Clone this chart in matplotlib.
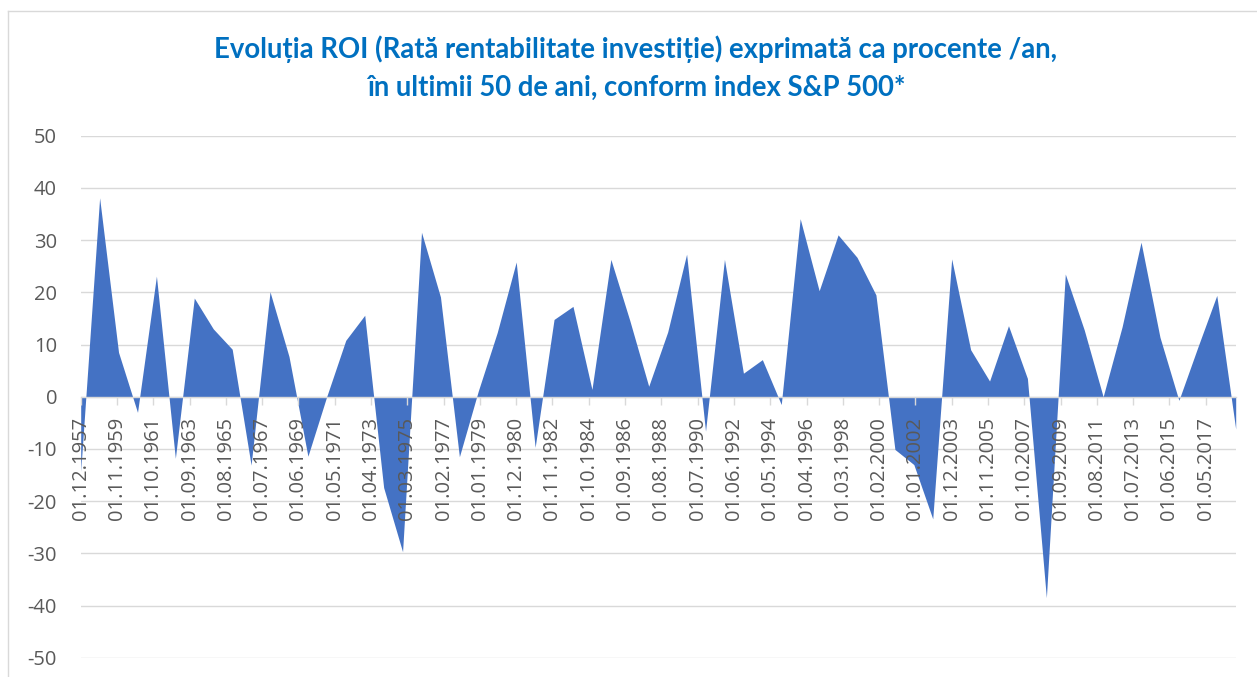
import matplotlib
matplotlib.use("Agg")
import matplotlib.pyplot as plt
from matplotlib.lines import Line2D
from datetime import datetime

# ---- data -------------------------------------------------------------
years = list(range(1957, 2019))
roi = [-14.3, 38.1, 8.5, -3.0, 23.1, -11.8, 18.9, 13.0, 9.1, -13.1,
       20.1, 7.7, -11.4, 0.1, 10.8, 15.6, -17.4, -29.7, 31.5, 19.1,
       -11.5, 1.1, 12.3, 25.8, -9.7, 14.8, 17.3, 1.4, 26.3, 14.6,
       2.0, 12.4, 27.3, -6.6, 26.3, 4.5, 7.1, -1.5, 34.1, 20.3,
       31.0, 26.7, 19.5, -10.1, -13.0, -23.4, 26.4, 9.0, 3.0, 13.6,
       3.5, -38.5, 23.5, 12.8, 0.0, 13.4, 29.6, 11.4, -0.7, 9.5,
       19.4, -6.2]
tick_labels = ["01.12.1957", "01.11.1959", "01.10.1961", "01.09.1963",
               "01.08.1965", "01.07.1967", "01.06.1969", "01.05.1971",
               "01.04.1973", "01.03.1975", "01.02.1977", "01.01.1979",
               "01.12.1980", "01.11.1982", "01.10.1984", "01.09.1986",
               "01.08.1988", "01.07.1990", "01.06.1992", "01.05.1994",
               "01.04.1996", "01.03.1998", "01.02.2000", "01.01.2002",
               "01.12.2003", "01.11.2005", "01.10.2007", "01.09.2009",
               "01.08.2011", "01.07.2013", "01.06.2015", "01.05.2017"]
y_ticks = [50, 40, 30, 20, 10, 0, -10, -20, -30, -40, -50]
title = ("Evoluția ROI (Rată rentabilitate investiție) exprimată ca procente /an,\n"
         "în ultimii 50 de ani, conform index S&P 500*")

# ---- figure -----------------------------------------------------------
W, H = 1257, 677
fig = plt.figure(figsize=(W / 100, H / 100), dpi=100)
fig.patch.set_facecolor("white")

left, right, top, bottom = 80.7, 1235.7, 135.7, 657.7
ax = fig.add_axes([left / W, 1 - bottom / H, (right - left) / W, (bottom - top) / H])

grid_c = "#D9D9D9"
lab_c = "#595959"
font = ["Open Sans", "DejaVu Sans"]

for s in ["top", "right", "left"]:
    ax.spines[s].set_visible(False)
ax.spines["bottom"].set_position(("data", 0))
ax.spines["bottom"].set_color(grid_c)
ax.spines["bottom"].set_linewidth(1.0)
ax.spines["bottom"].set_zorder(3)

dates = [datetime(y, 12, 1) for y in years]
ax.fill_between(dates, roi, 0, color="#4472C4", linewidth=0, zorder=1)

ax.set_xlim(dates[0], dates[-1])
ax.set_ylim(-50, 50)

ax.set_yticks(y_ticks)
ax.set_yticklabels([str(v) for v in y_ticks], family=font, fontsize=14.5, color=lab_c)
ax.tick_params(axis="y", length=0, pad=17)
ax.yaxis.grid(True, color=grid_c, linewidth=1.0)
ax.set_axisbelow(True)

tick_pos = [datetime.strptime(s, "%d.%m.%Y") for s in tick_labels]
ax.set_xticks(tick_pos)
ax.set_xticklabels(tick_labels, family=font, fontsize=14.5, color=lab_c)
ax.tick_params(axis="x", length=5.5, width=1.0, color=grid_c, pad=9,
               direction="out", labelrotation=90)
for lbl in ax.get_xticklabels():
    lbl.set_va("top")
    lbl.set_ha("center")
ax.xaxis.set_zorder(3)
ax.set_facecolor("none")

# chart border (top and left edges visible)
def px(x, y):
    return x / W, 1 - y / H
x0, y0 = px(8, 11)
x1, _ = px(W + 5, 11)
_, y1 = px(8, H + 5)
fig.add_artist(Line2D([x0, x1], [y0, y0], color=grid_c, linewidth=1.0))
fig.add_artist(Line2D([x0, x0], [y0, y1], color=grid_c, linewidth=1.0))

fig.text(636 / W, 1 - 68 / H, title, ha="center", va="center", multialignment="center",
         family=["Lato", "DejaVu Sans"], fontweight="bold", fontsize=19.8,
         color="#0070C0", linespacing=1.55)

fig.savefig("out.png", dpi=100, facecolor="white")
